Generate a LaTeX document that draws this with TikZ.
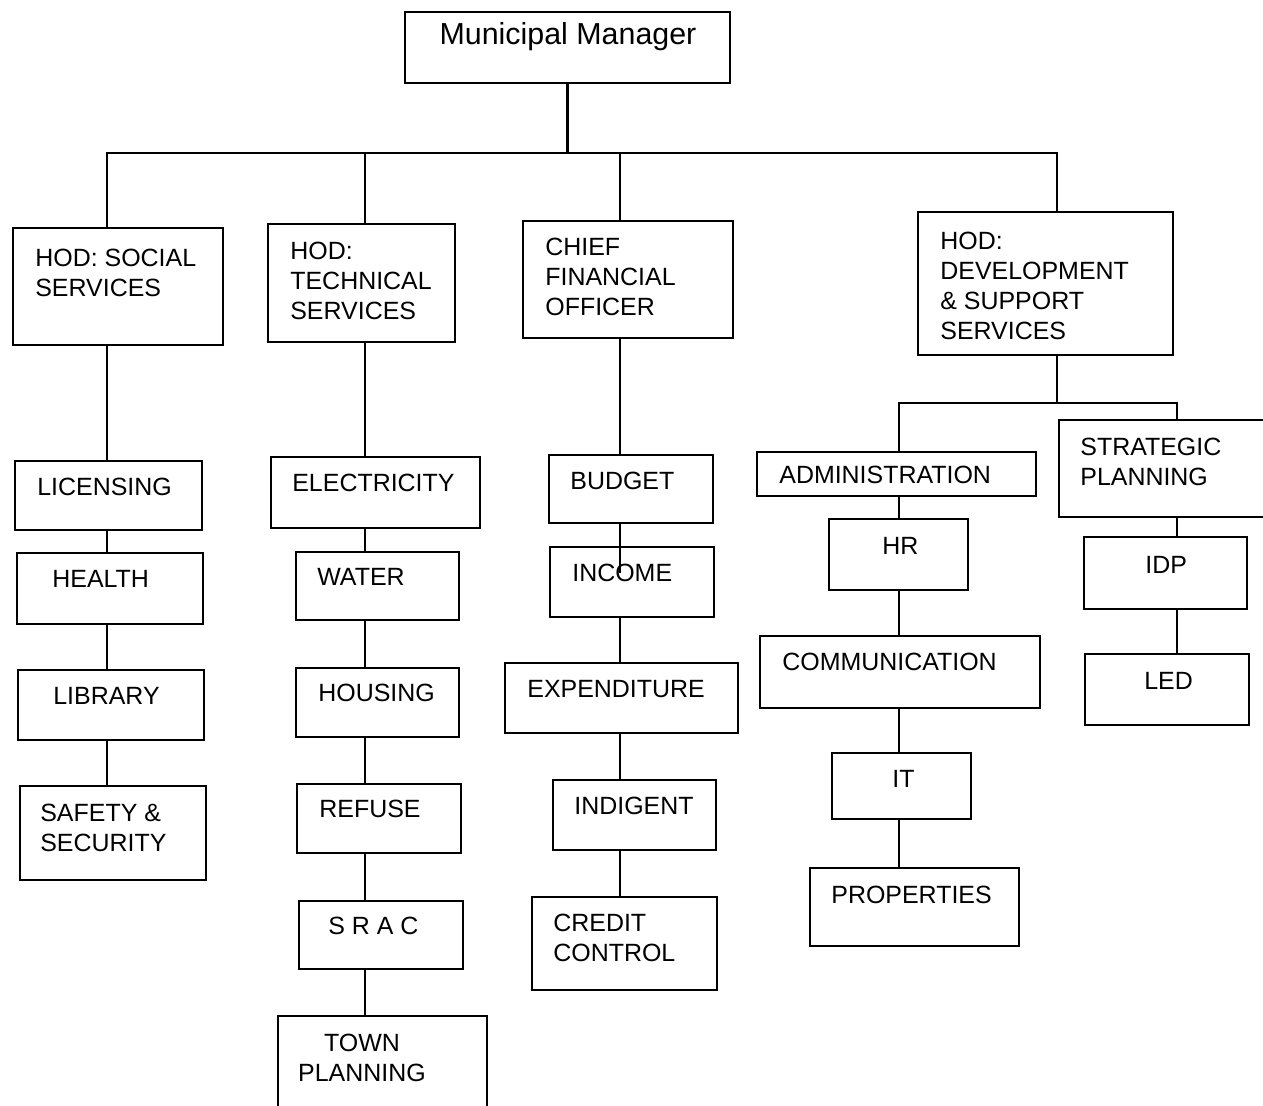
\documentclass[tikz,border=0pt]{standalone}
\usepackage{fontspec}
\setmainfont{Liberation Sans}
\usetikzlibrary{fit}
\tikzset{
  box/.style={draw, line width=1.2pt, inner sep=0pt},
  lbl/.style={inner sep=0pt, anchor=north west, align=left, font=\fontsize{14.2}{17}\selectfont},
  link/.style={line width=1.2pt},
}
\begin{document}
\begin{tikzpicture}[x=0.02cm, y=-0.02cm]
    \useasboundingbox (0,0) rectangle (1263,1105);
    %% Column lines
    \coordinate (scol) at (107,0);
    \coordinate (tcol) at (365,0);
    \coordinate (ccol) at (620,0);
    \coordinate (hcol) at (1057,0);
    \coordinate (dcol) at (899,0);
    \coordinate (pcol) at (1177,0);
    \coordinate (bus) at (568,153);
    \coordinate (dbus) at (1057,403);
    %% Top
    \node[box, fit={(405,12) (730,83)}] (mm) {};
    \node[lbl, anchor=north, font=\fontsize{17.3}{20}\selectfont] (mm-t) at (568,22) {Municipal Manager};
    %% Heads
    \node[box, fit={(13,228) (223,345)}] (hss) {};
    \node[box, fit={(268,224) (455,342)}] (hts) {};
    \node[box, fit={(523,221) (733,338)}] (cfo) {};
    \node[box, fit={(918,212) (1173,355)}] (hds) {};
    \node[lbl] (hss-t) at (35,249) {HOD: SOCIAL\\SERVICES};
    \node[lbl] (hts-t) at (290,242) {HOD:\\TECHNICAL\\SERVICES};
    \node[lbl] (cfo-t) at (545,238) {CHIEF\\FINANCIAL\\OFFICER};
    \node[lbl] (hds-t) at (940,232) {HOD:\\DEVELOPMENT\\\& SUPPORT\\SERVICES};
    %% Social services
    \node[box, fit={(15,461) (202,530)}] (lic) {};
    \node[box, fit={(17,553) (203,624)}] (hea) {};
    \node[box, fit={(18,670) (204,740)}] (lib) {};
    \node[box, fit={(20,786) (206,880)}] (saf) {};
    \node[lbl] (lic-t) at (37,478) {LICENSING};
    \node[lbl] (hea-t) at (52,570) {HEALTH};
    \node[lbl] (lib-t) at (53,687) {LIBRARY};
    \node[lbl] (saf-t) at (40,804) {SAFETY \&\\SECURITY};
    %% Technical services
    \node[box, fit={(271,457) (480,528)}] (ele) {};
    \node[box, fit={(296,552) (459,620)}] (wat) {};
    \node[box, fit={(296,668) (459,737)}] (hou) {};
    \node[box, fit={(297,784) (461,853)}] (ref) {};
    \node[box, fit={(299,901) (463,969)}] (sra) {};
    \node[box, fit={(278,1016) (487,1115)}] (tow) {};
    \node[lbl] (ele-t) at (292,474) {ELECTRICITY};
    \node[lbl] (wat-t) at (317,568) {WATER};
    \node[lbl] (hou-t) at (318,684) {HOUSING};
    \node[lbl] (ref-t) at (319,800) {REFUSE};
    \node[lbl] (sra-t) at (328,917) {S R A C};
    \node[lbl, anchor=north, align=center] (tow-t) at (362,1034) {TOWN\\PLANNING};
    %% Finance
    \node[box, fit={(549,455) (713,523)}] (bud) {};
    \node[box, fit={(550,547) (714,617)}] (inc) {};
    \node[box, fit={(505,663) (738,733)}] (exp) {};
    \node[box, fit={(553,780) (716,850)}] (ind) {};
    \node[box, fit={(532,897) (717,990)}] (cre) {};
    \node[lbl] (bud-t) at (570,472) {BUDGET};
    \node[lbl] (inc-t) at (572,564) {INCOME};
    \node[lbl] (exp-t) at (527,680) {EXPENDITURE};
    \node[lbl] (ind-t) at (574,797) {INDIGENT};
    \node[lbl] (cre-t) at (553,914) {CREDIT\\CONTROL};
    %% Development & support
    \node[box, fit={(757,452) (1036,496)}] (adm) {};
    \node[box, fit={(829,519) (968,590)}] (hr) {};
    \node[box, fit={(760,636) (1040,708)}] (com) {};
    \node[box, fit={(832,753) (971,819)}] (it) {};
    \node[box, fit={(810,868) (1019,946)}] (pro) {};
    \node[box, fit={(1059,420) (1280,517)}] (str) {};
    \node[box, fit={(1084,537) (1247,609)}] (idp) {};
    \node[box, fit={(1085,654) (1249,725)}] (led) {};
    \node[lbl] (adm-t) at (779,466) {ADMINISTRATION};
    \node[lbl] (hr-t) at (882,537) {HR};
    \node[lbl] (com-t) at (782,653) {COMMUNICATION};
    \node[lbl] (it-t) at (892,770) {IT};
    \node[lbl] (pro-t) at (831,886) {PROPERTIES};
    \node[lbl] (str-t) at (1080,438) {STRATEGIC\\PLANNING};
    \node[lbl] (idp-t) at (1145,556) {IDP};
    \node[lbl] (led-t) at (1144,672) {LED};
    %% Top lines
    \draw[link] (mm.south) -- (mm.south |- bus);
    \draw[link] (scol |- hss.north) -- (scol |- bus) -- (hcol |- bus) -- (hcol |- hds.north);
    \draw[link] (tcol |- hts.north) -- (tcol |- bus);
    \draw[link] (ccol |- cfo.north) -- (ccol |- bus);
    %% Social lines
    \draw[link] (scol |- hss.south) -- (scol |- lic.north);
    \draw[link] (scol |- lic.south) -- (scol |- hea.north);
    \draw[link] (scol |- hea.south) -- (scol |- lib.north);
    \draw[link] (scol |- lib.south) -- (scol |- saf.north);
    %% Technical lines
    \draw[link] (tcol |- hts.south) -- (tcol |- ele.north);
    \draw[link] (tcol |- ele.south) -- (tcol |- wat.north);
    \draw[link] (tcol |- wat.south) -- (tcol |- hou.north);
    \draw[link] (tcol |- hou.south) -- (tcol |- ref.north);
    \draw[link] (tcol |- ref.south) -- (tcol |- sra.north);
    \draw[link] (tcol |- sra.south) -- (tcol |- tow.north);
    %% Finance lines
    \draw[link] (ccol |- cfo.south) -- (ccol |- bud.north);
    \draw[link] (ccol |- bud.south) -- (ccol |- inc-t.center);
    \draw[link] (ccol |- inc.south) -- (ccol |- exp.north);
    \draw[link] (ccol |- exp.south) -- (ccol |- ind.north);
    \draw[link] (ccol |- ind.south) -- (ccol |- cre.north);
    %% Development lines
    \draw[link] (hcol |- hds.south) -- (dbus);
    \draw[link] (dcol |- adm.north) -- (dcol |- dbus) -- (pcol |- dbus) -- (pcol |- str.north);
    \draw[link] (dcol |- adm.south) -- (dcol |- hr.north);
    \draw[link] (dcol |- hr.south) -- (dcol |- com.north);
    \draw[link] (dcol |- com.south) -- (dcol |- it.north);
    \draw[link] (dcol |- it.south) -- (dcol |- pro.north);
    \draw[link] (pcol |- str.south) -- (pcol |- idp.north);
    \draw[link] (pcol |- idp.south) -- (pcol |- led.north);
\end{tikzpicture}
\end{document}
